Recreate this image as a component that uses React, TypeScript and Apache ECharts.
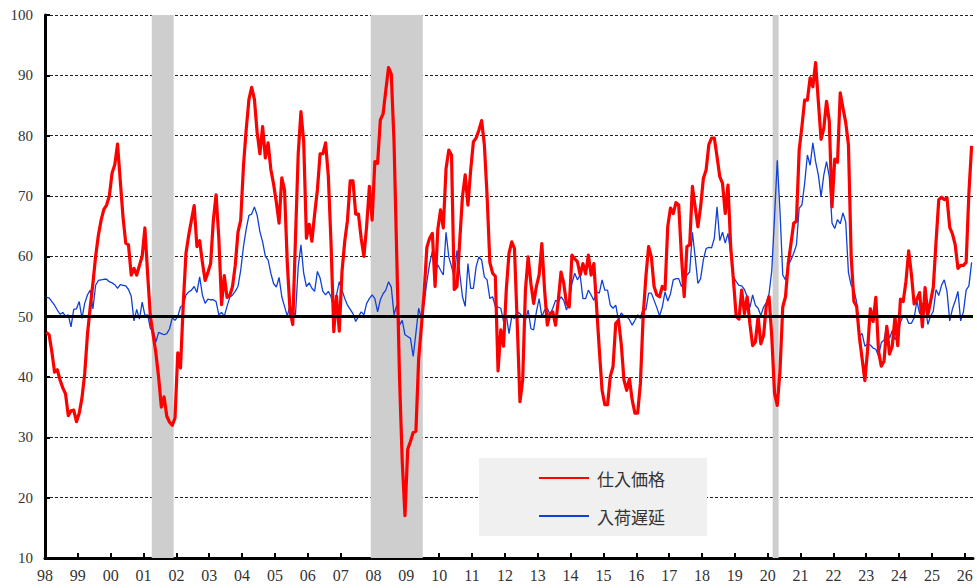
import React, { useEffect, useRef } from "react";
import * as echarts from "echarts";

const START_YEAR = 1998;

// 仕入価格 (monthly, Jan 1998 - Mar 2026)
const prices: number[] = [
  47.4, 47.0, 44.2, 40.8, 41.2, 39.5, 38.2, 37.2, 33.6, 34.4, 34.5, 32.6,
  34.0, 36.5, 40.5, 47.0, 51.5, 55.5, 60.0, 63.5, 66.0, 67.8, 68.5, 70.0,
  73.8, 75.2, 78.6, 72.5, 66.5, 62.2, 61.9, 56.9, 58.0, 56.9, 58.5, 60.0,
  64.7, 57.0, 50.0, 47.0, 44.0, 40.0, 35.0, 36.7, 33.5, 32.5, 32.0, 33.2,
  44.0, 41.5, 52.0, 60.5, 63.5, 66.0, 68.4, 61.6, 62.6, 59.0, 56.0, 57.3,
  58.8, 66.0, 70.2, 63.0, 52.0, 56.8, 53.2, 53.5, 55.0, 58.5, 64.0, 66.0,
  75.0, 81.0, 86.0, 88.0, 86.0, 80.5, 77.0, 81.5, 76.3, 78.8, 74.4, 72.0,
  69.0, 65.5, 73.0, 71.0, 59.0, 51.0, 48.7, 63.0, 77.0, 84.0, 79.0, 63.0,
  65.3, 62.5, 67.0, 71.0, 77.0, 77.0, 78.8, 73.3, 62.0, 47.5, 53.4, 47.6,
  57.5, 62.5, 66.0, 72.5, 72.5, 67.0, 67.0, 63.0, 60.0, 65.0, 71.6, 66.0,
  75.7, 75.4, 82.6, 83.6, 87.5, 91.3, 90.2, 79.0, 60.0, 40.0, 26.0, 17.0,
  28.0, 29.3, 30.8, 31.0, 43.0, 48.4, 54.0, 61.5, 63.0, 63.8, 55.0, 64.5,
  67.7, 64.7, 74.5, 77.6, 76.8, 54.5, 55.0, 62.5, 69.9, 73.5, 68.5, 74.3,
  79.0, 79.6, 80.9, 82.5, 78.5, 70.0, 59.0, 57.2, 56.7, 41.0, 47.8, 45.1,
  54.4, 60.5, 62.4, 61.3, 48.9, 35.9, 39.5, 54.4, 59.9, 55.5, 52.2, 55.0,
  56.9, 62.1, 54.4, 48.6, 50.5, 50.8, 48.6, 52.7, 57.4, 55.5, 52.2, 51.6,
  60.2, 59.6, 59.1, 56.9, 58.8, 57.1, 60.2, 56.9, 58.8, 51.6, 44.5, 37.8,
  35.4, 35.4, 40.1, 41.7, 48.9, 49.4, 45.5, 39.5, 37.8, 39.7, 36.2, 34.0,
  34.0, 38.9, 50.0, 56.6, 61.6, 59.9, 55.0, 53.6, 53.3, 55.0, 54.5, 65.0,
  68.0, 67.1, 68.9, 68.5, 60.0, 53.3, 61.6, 61.9, 71.6, 68.2, 64.9, 68.2,
  72.9, 74.3, 78.5, 79.6, 79.6, 76.5, 73.2, 72.1, 67.1, 71.8, 61.5, 56.0,
  50.0, 49.6, 54.4, 50.5, 53.3, 48.8, 45.2, 45.8, 50.0, 45.5, 46.9, 51.9,
  53.3, 46.6, 37.3, 35.3, 41.0, 51.6, 53.3, 58.8, 62.1, 65.5, 65.8, 77.6,
  81.5, 85.9, 85.9, 89.6, 88.1, 92.1, 85.7, 79.4, 81.2, 85.7, 82.4, 68.2,
  76.1, 75.6, 87.1, 84.6, 82.2, 78.5, 60.0, 52.5, 51.7, 46.6, 43.0, 39.4,
  44.5, 51.3, 49.2, 53.2, 44.2, 41.8, 42.6, 48.4, 43.8, 45.1, 49.9, 45.2,
  52.9, 52.5, 55.8, 60.9, 57.0, 52.1, 52.9, 54.0, 48.3, 54.8, 50.3, 52.5,
  54.9, 62.4, 69.4, 69.8, 69.4, 69.7, 64.8, 63.7, 61.9, 58.0, 58.5, 58.5,
  59.0, 70.5, 78.3,
];

// 入荷遅延 (monthly, Jan 1998 - Mar 2026)
const deliveries: number[] = [
  53.2, 53.1, 52.5, 51.9, 51.1, 50.4, 50.7, 50.1, 50.3, 48.3, 51.2, 51.3,
  52.5, 49.7, 52.2, 53.6, 54.4, 51.3, 55.2, 56.0, 56.1, 56.2, 56.2, 55.8,
  55.6, 55.3, 54.7, 55.3, 55.2, 55.1, 54.5, 53.4, 49.3, 51.2, 49.6, 52.4,
  50.2, 50.3, 48.0, 47.7, 45.8, 47.4, 47.2, 47.0, 47.2, 48.0, 49.8, 49.4,
  50.0, 51.6, 51.9, 53.6, 54.1, 54.4, 55.0, 54.0, 56.6, 53.6, 52.2, 52.9,
  52.8, 52.8, 52.5, 50.3, 50.7, 50.1, 51.7, 53.2, 53.6, 54.2, 55.0, 57.7,
  61.6, 64.5, 66.8, 67.0, 68.2, 66.8, 64.1, 62.4, 60.0, 59.4, 57.2, 55.5,
  54.9, 56.5, 53.3, 51.7, 50.1, 51.9, 50.8, 50.3, 58.3, 61.9, 57.2, 55.0,
  55.6, 54.7, 54.2, 57.5, 56.4, 54.2, 53.6, 54.2, 53.3, 51.4, 53.6, 55.8,
  54.4, 53.0, 51.9, 51.2, 50.5, 49.2, 50.0, 50.8, 50.3, 52.2, 53.0, 53.6,
  53.0, 50.8, 52.8, 53.8, 54.4, 55.8, 54.9, 50.3, 51.9, 48.6, 49.4, 47.0,
  46.7, 46.4, 43.4, 47.3, 51.4, 49.7, 52.2, 55.8, 58.8, 60.8, 57.2, 58.6,
  57.7, 56.9, 64.0, 59.9, 58.3, 56.6, 61.0, 57.2, 53.3, 51.7, 58.8, 54.7,
  54.7, 58.3, 59.9, 59.4, 56.6, 56.1, 53.0, 53.3, 51.7, 51.6, 51.4, 49.2,
  50.3, 47.2, 50.0, 49.7, 50.8, 50.5, 50.0, 49.4, 51.1, 48.0, 47.8, 50.8,
  53.0, 50.0, 51.1, 51.4, 50.3, 51.4, 52.7, 52.5, 53.3, 52.7, 51.1, 52.5,
  55.5, 57.2, 56.1, 56.9, 53.0, 53.0, 54.4, 53.6, 52.7, 54.1, 53.9, 56.1,
  54.4, 54.4, 51.9, 51.4, 51.9, 49.4, 50.6, 50.1, 50.0, 49.5, 48.6, 49.4,
  50.3, 49.7, 51.4, 51.1, 53.9, 53.9, 52.7, 51.5, 50.1, 51.6, 54.1, 52.6,
  53.8, 56.1, 56.3, 56.3, 55.0, 55.8, 56.9, 57.4, 64.0, 59.9, 55.5, 56.3,
  59.4, 61.3, 61.5, 61.4, 63.0, 68.2, 62.6, 64.0, 62.2, 63.8, 60.5, 56.6,
  55.8, 55.2, 55.1, 54.5, 53.3, 51.5, 53.6, 51.9, 51.4, 50.2, 51.6, 52.3,
  53.8, 57.7, 66.5, 75.9, 67.4, 56.9, 56.1, 58.5, 59.4, 60.5, 61.9, 68.0,
  68.5, 72.1, 76.8, 75.1, 78.8, 75.7, 73.5, 69.9, 73.5, 75.7, 73.2, 65.5,
  64.6, 66.1, 65.4, 67.2, 65.7, 57.3, 55.2, 54.5, 52.4, 46.8, 47.2, 45.1,
  45.5, 45.3, 44.8, 44.6, 43.5, 45.7, 46.1, 48.6, 46.4, 47.7, 46.2, 47.0,
  49.1, 50.1, 50.1, 48.9, 48.9, 49.8, 52.6, 50.5, 52.2, 52.0, 48.7, 50.1,
  50.9, 54.5, 53.5, 55.2, 56.1, 54.2, 49.3, 51.3, 52.6, 54.2, 49.3, 50.8,
  54.4, 55.1, 59.0,
];

// recession periods, in months since Jan 1998
const recessions: [number, number][] = [
  [39, 47],
  [119, 138],
  [265.8, 268],
];

const seriesNames = ["仕入価格", "入荷遅延"];
const yTicks = { min: 10, max: 100, step: 10 };
const refLevel = 50;

const SERIF = "'Liberation Serif', 'DejaVu Serif', serif";
const CJK = "'Noto Sans CJK JP', 'Noto Sans', sans-serif";

export default function App() {
  const ref = useRef<HTMLDivElement>(null);
  useEffect(() => {
    if (!ref.current) return;
    const chart = echarts.init(ref.current, undefined, { renderer: "svg" });
    const toPts = (arr: number[]) => arr.map((v, i) => [i + 0.5, v]);
    const option: any = {
      animation: false,
      backgroundColor: "#ffffff",
      grid: { left: 45, right: 4, top: 15, bottom: 30, containLabel: false, outerBoundsMode: "none" },
      legend: {
        data: seriesNames,
        orient: "vertical",
        left: 479,
        top: 458,
        backgroundColor: "#f0f0f0",
        padding: [10, 42, 10, 59],
        itemGap: 18,
        itemWidth: 50,
        itemHeight: 14,
        itemStyle: { opacity: 0 },
        textStyle: { fontSize: 17, color: "#333", fontFamily: CJK, lineHeight: 20, padding: [0, 0, 0, 3] },
      },
      xAxis: {
        type: "value",
        min: 0,
        max: 339,
        interval: 12,
        splitLine: { show: false },
        axisLine: { show: true, onZero: false, lineStyle: { color: "#000", width: 3 } },
        axisTick: { show: true, inside: true, length: 5, lineStyle: { color: "#000", width: 2 } },
        axisLabel: {
          margin: 9,
          fontSize: 16,
          fontFamily: SERIF,
          color: "#333",
          showMaxLabel: false,
          formatter: (v: number) =>
            v % 12 === 0 ? String((START_YEAR + v / 12) % 100).padStart(2, "0") : "",
        },
      },
      yAxis: {
        type: "value",
        min: yTicks.min,
        max: yTicks.max,
        interval: yTicks.step,
        axisLine: { show: true, lineStyle: { color: "#000", width: 3 } },
        axisTick: { show: true, inside: true, length: 5, lineStyle: { color: "#000", width: 2 } },
        axisLabel: { margin: 12, fontSize: 15, fontFamily: SERIF, color: "#333" },
        splitLine: { show: true, lineStyle: { color: "#222", width: 1, type: [3, 2] } },
      },
      series: [
        {
          name: "recession",
          type: "line",
          data: [],
          z: 1,
          silent: true,
          markArea: {
            silent: true,
            itemStyle: { color: "#cfcecf" },
            data: recessions.map(([a, b]) => [{ xAxis: a }, { xAxis: b }]),
          },
        },
        {
          name: "ref",
          type: "line",
          data: [],
          z: 2,
          silent: true,
          markLine: {
            silent: true,
            symbol: "none",
            label: { show: false },
            lineStyle: { color: "#000", width: 3, type: "solid" },
            data: [{ yAxis: refLevel }],
          },
        },
        {
          name: seriesNames[1],
          type: "line",
          data: toPts(deliveries),
          symbol: "none",
          z: 3,
          lineStyle: { color: "#1040d8", width: 1.3 },
          itemStyle: { color: "#1040d8" },
        },
        {
          name: seriesNames[0],
          type: "line",
          data: toPts(prices),
          symbol: "none",
          z: 4,
          lineStyle: { color: "#ff0000", width: 3.2, join: "round" },
          itemStyle: { color: "#ff0000" },
        },
      ],
    };
    chart.setOption(option);
    return () => chart.dispose();
  }, []);
  return (
    <div
      ref={ref}
      style={{ position: "fixed", left: 0, top: 0, width: 977, height: 588, background: "#fff" }}
    />
  );
}
